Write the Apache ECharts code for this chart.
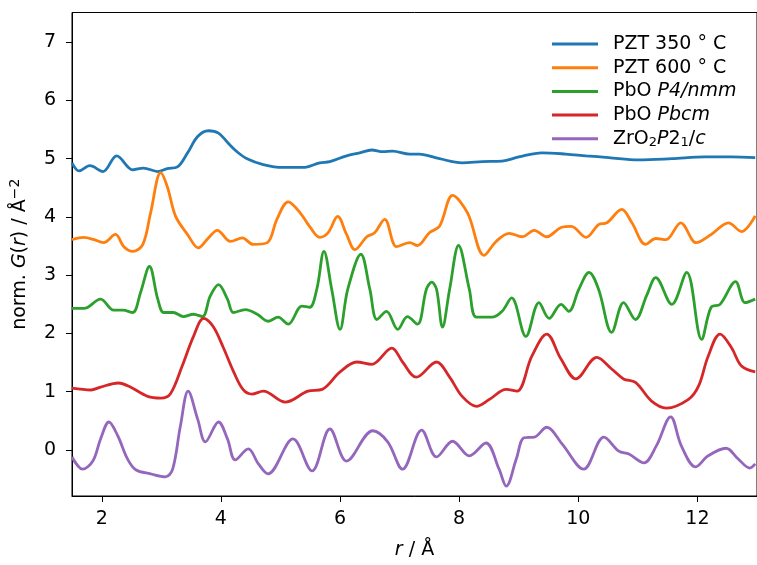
<!DOCTYPE html>
<html>
<head>
<meta charset="utf-8">
<script src="https://cdn.jsdelivr.net/npm/echarts@6/dist/echarts.min.js"></script>
<style>html,body{margin:0;padding:0;background:#fff}#c{width:757px;height:565px}</style>
</head>
<body>
<div id="c"></div>
<script>
// ---- data ----
const seriesNames = ['PZT 350 ° C', 'PZT 600 ° C', 'PbO P4/nmm', 'PbO Pbcm', 'ZrO2 P21/c'];
const colors = ['#1f77b4', '#ff7f0e', '#2ca02c', '#d62728', '#9467bd'];

const xTicks = [2, 4, 6, 8, 10, 12];
const yTicks = [0, 1, 2, 3, 4, 5, 6, 7];

const pzt350X = [1.5, 1.62, 1.8, 2.02, 2.25, 2.52, 2.70, 2.94, 3.10, 3.27, 3.44, 3.61, 3.79, 3.96, 4.12, 4.27, 4.44, 4.71, 5.04, 5.38, 5.66, 5.83, 6.11, 6.33, 6.53, 6.72, 6.88, 7.17, 7.33, 7.67, 8.05, 8.39, 8.72, 9.0, 9.39, 9.79, 10.13, 10.51, 11.01, 11.57, 12.13, 12.57, 12.97];
const pzt350Y = [4.93, 4.79, 4.88, 4.78, 5.05, 4.81, 4.84, 4.78, 4.83, 4.86, 5.10, 5.38, 5.48, 5.44, 5.27, 5.12, 5.00, 4.90, 4.85, 4.85, 4.93, 4.95, 5.05, 5.10, 5.15, 5.12, 5.13, 5.08, 5.08, 5.00, 4.93, 4.95, 4.96, 5.03, 5.10, 5.08, 5.05, 5.02, 4.98, 5.00, 5.03, 5.03, 5.02];

const pzt600X = [1.5, 1.70, 1.87, 2.03, 2.23, 2.37, 2.52, 2.69, 2.82, 2.99, 3.10, 3.24, 3.44, 3.62, 3.79, 3.94, 4.16, 4.36, 4.54, 4.78, 4.94, 5.13, 5.33, 5.50, 5.66, 5.80, 5.96, 6.11, 6.25, 6.45, 6.58, 6.75, 6.95, 7.17, 7.30, 7.50, 7.67, 7.89, 8.14, 8.42, 8.62, 8.84, 9.06, 9.26, 9.47, 9.71, 9.88, 10.13, 10.34, 10.48, 10.73, 10.90, 11.13, 11.30, 11.47, 11.72, 11.98, 12.23, 12.52, 12.74, 12.97];
const pzt600Y = [3.61, 3.65, 3.61, 3.56, 3.70, 3.49, 3.41, 3.53, 4.07, 4.76, 4.52, 4.01, 3.70, 3.47, 3.64, 3.77, 3.58, 3.64, 3.53, 3.56, 3.96, 4.26, 4.07, 3.82, 3.65, 3.73, 4.01, 3.70, 3.44, 3.66, 3.73, 3.96, 3.49, 3.56, 3.51, 3.73, 3.84, 4.37, 4.07, 3.34, 3.58, 3.72, 3.66, 3.77, 3.66, 3.82, 3.84, 3.65, 3.87, 3.90, 4.13, 3.90, 3.53, 3.63, 3.61, 3.90, 3.56, 3.70, 3.90, 3.75, 4.02];

const pboP4X = [1.5, 1.70, 1.98, 2.20, 2.35, 2.52, 2.65, 2.80, 2.94, 3.04, 3.20, 3.37, 3.54, 3.69, 3.82, 3.96, 4.11, 4.21, 4.41, 4.61, 4.79, 4.96, 5.13, 5.36, 5.49, 5.61, 5.73, 5.86, 6.00, 6.13, 6.35, 6.50, 6.62, 6.78, 6.97, 7.13, 7.30, 7.45, 7.54, 7.62, 7.72, 7.84, 7.99, 8.17, 8.29, 8.56, 8.72, 8.88, 9.12, 9.34, 9.51, 9.71, 9.84, 10.01, 10.18, 10.34, 10.56, 10.76, 10.96, 11.15, 11.30, 11.57, 11.82, 12.07, 12.23, 12.38, 12.64, 12.80, 12.97];
const pboP4Y = [2.43, 2.43, 2.59, 2.40, 2.40, 2.36, 2.70, 3.15, 2.59, 2.36, 2.36, 2.29, 2.33, 2.29, 2.64, 2.84, 2.59, 2.36, 2.41, 2.33, 2.21, 2.28, 2.16, 2.47, 2.45, 2.76, 3.41, 2.76, 2.07, 2.76, 3.36, 2.76, 2.24, 2.38, 2.07, 2.29, 2.16, 2.76, 2.88, 2.76, 2.11, 2.76, 3.51, 2.76, 2.28, 2.28, 2.38, 2.61, 1.95, 2.53, 2.26, 2.50, 2.38, 2.76, 3.05, 2.76, 2.02, 2.53, 2.24, 2.66, 2.96, 2.50, 3.05, 1.90, 2.45, 2.50, 2.89, 2.53, 2.59];

const pboPbX = [1.5, 1.82, 1.98, 2.28, 2.48, 2.77, 2.99, 3.15, 3.35, 3.54, 3.71, 3.87, 4.04, 4.21, 4.37, 4.52, 4.71, 5.08, 5.46, 5.70, 6.00, 6.28, 6.53, 6.87, 7.05, 7.28, 7.62, 7.84, 8.05, 8.29, 8.51, 8.79, 8.97, 9.22, 9.47, 9.71, 9.96, 10.31, 10.56, 10.76, 10.96, 11.23, 11.48, 11.85, 12.02, 12.18, 12.38, 12.57, 12.74, 12.97];
const pboPbY = [1.06, 1.03, 1.08, 1.15, 1.08, 0.92, 0.89, 0.96, 1.44, 1.95, 2.26, 2.12, 1.76, 1.35, 1.04, 0.96, 1.01, 0.82, 1.01, 1.04, 1.34, 1.51, 1.47, 1.75, 1.51, 1.25, 1.51, 1.25, 0.92, 0.75, 0.87, 1.04, 1.01, 1.61, 1.99, 1.56, 1.22, 1.59, 1.39, 1.22, 1.16, 0.84, 0.72, 0.87, 1.10, 1.61, 1.99, 1.76, 1.44, 1.34];

const zro2X = [1.5, 1.68, 1.85, 1.98, 2.12, 2.27, 2.43, 2.57, 2.82, 3.07, 3.19, 3.32, 3.45, 3.61, 3.74, 3.96, 4.11, 4.24, 4.46, 4.63, 4.79, 5.21, 5.53, 5.83, 6.11, 6.55, 6.80, 7.05, 7.37, 7.62, 7.89, 8.17, 8.45, 8.67, 8.79, 8.96, 9.09, 9.26, 9.47, 9.73, 10.09, 10.43, 10.68, 10.85, 11.10, 11.31, 11.55, 11.73, 11.97, 12.18, 12.48, 12.68, 12.88, 12.97];
const zro2Y = [-0.12, -0.33, -0.19, 0.19, 0.48, 0.24, -0.15, -0.34, -0.41, -0.46, -0.33, 0.41, 1.01, 0.53, 0.14, 0.48, 0.19, -0.17, 0.02, -0.24, -0.41, 0.19, -0.36, 0.36, -0.19, 0.33, 0.14, -0.33, 0.34, -0.12, 0.15, -0.10, 0.12, -0.33, -0.62, -0.15, 0.21, 0.22, 0.39, 0.10, -0.33, 0.22, -0.02, -0.07, -0.22, 0.07, 0.57, 0.07, -0.29, -0.10, 0.03, -0.15, -0.31, -0.24];

const xs = [pzt350X, pzt600X, pboP4X, pboPbX, zro2X];
const ys = [pzt350Y, pzt600Y, pboP4Y, pboPbY, zro2Y];

const FONT = 'DejaVu Sans';
const TXT = '#000';

const legendRich = {
  'PZT 350 ° C': 'PZT 350 ° C',
  'PZT 600 ° C': 'PZT 600 ° C',
  'PbO P4/nmm': 'PbO {i|P4/nmm}',
  'PbO Pbcm': 'PbO {i|Pbcm}',
  'ZrO2 P21/c': 'ZrO{sub|2}{i|P}2{sub|1}/{i|c}'
};

const chart = echarts.init(document.getElementById('c'), null, {renderer: 'canvas'});
chart.setOption({
  animation: false,
  backgroundColor: '#fff',
  grid: {left: 71, right: -1, top: 12.5, bottom: 68, show: true, borderColor: '#000', borderWidth: 1},
  legend: {
    orient: 'vertical', left: 547, top: 28,
    icon: 'rect', itemWidth: 46, itemHeight: 3, itemGap: 1.7,
    data: seriesNames,
    formatter: n => legendRich[n],
    textStyle: {
      fontFamily: FONT, fontSize: 19, color: TXT, lineHeight: 22, padding: [0, 0, 0, 10],
      rich: {
        i: {fontFamily: FONT, fontSize: 19, fontStyle: 'italic', color: TXT, lineHeight: 22},
        sub: {fontFamily: FONT, fontSize: 13, color: TXT, lineHeight: 22, padding: [8, 0, 0, 0]}
      }
    }
  },
  xAxis: {
    type: 'value', min: 1.5, max: 13,
    name: '{i|r} / Å', nameLocation: 'middle', nameGap: 45,
    nameTextStyle: {fontFamily: FONT, fontSize: 19, color: TXT,
      rich: {i: {fontFamily: FONT, fontSize: 19, fontStyle: 'italic', color: TXT}}},
    axisLine: {show: true, onZero: false, lineStyle: {color: '#000', width: 1}},
    axisTick: {show: true, length: 6, customValues: xTicks, lineStyle: {color: '#000', width: 1}},
    axisLabel: {customValues: xTicks, fontFamily: FONT, fontSize: 19, color: TXT, margin: 14},
    splitLine: {show: false}
  },
  yAxis: {
    type: 'value', min: -0.79, max: 7.51,
    name: 'norm. {i|G}({i|r}) / Å{sup|−2}', nameLocation: 'middle', nameGap: 33, nameRotate: 90,
    nameTextStyle: {fontFamily: FONT, fontSize: 19, color: TXT, lineHeight: 22,
      rich: {
        i: {fontFamily: FONT, fontSize: 19, fontStyle: 'italic', color: TXT, lineHeight: 22},
        sup: {fontFamily: FONT, fontSize: 14, color: TXT, lineHeight: 22, padding: [0, 0, 11, 0]}
      }},
    axisLine: {show: true, onZero: false, lineStyle: {color: '#000', width: 1}},
    axisTick: {show: true, length: 6, customValues: yTicks, lineStyle: {color: '#000', width: 1}},
    axisLabel: {customValues: yTicks, fontFamily: FONT, fontSize: 19, color: TXT, margin: 16},
    splitLine: {show: false}
  },
  series: seriesNames.map((name, k) => ({
    name: name,
    type: 'line',
    data: xs[k].map((x, i) => [x, ys[k][i]]),
    showSymbol: false, symbol: 'none',
    smooth: 0.35,
    color: colors[k],
    lineStyle: {color: colors[k], width: 2.8}
  }))
});
</script>
</body>
</html>
